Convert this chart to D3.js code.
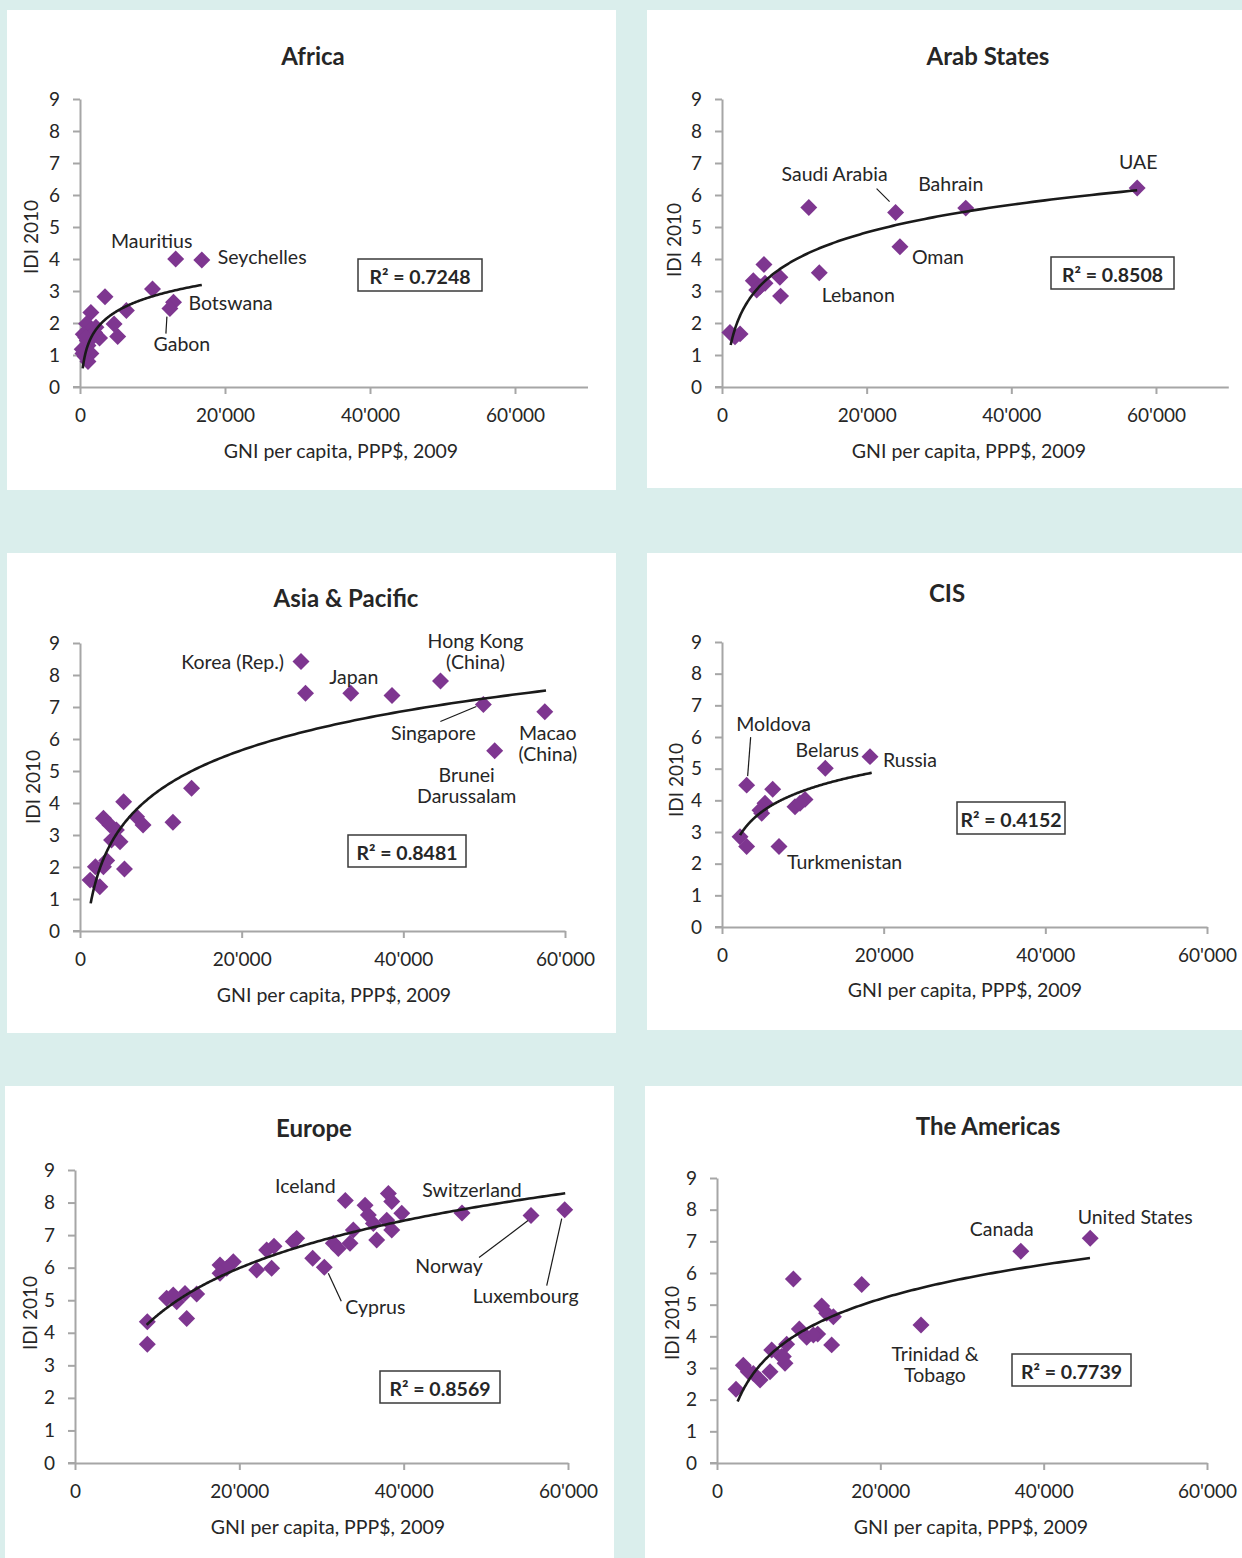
<!DOCTYPE html>
<html>
<head>
<meta charset="utf-8">
<script src="https://cdn.jsdelivr.net/npm/d3@7"></script>
<style>
  html, body { margin: 0; padding: 0; background: #daeeec; }
  svg { display: block; }
  text { font-family: Lato, "Open Sans", sans-serif; fill: #262626; }
</style>
</head>
<body>
<svg id="chart" width="1242" height="1558"></svg>
<script>
// ---------------- DATA ----------------
const regionNames = ["Africa", "Arab States", "Asia & Pacific", "CIS", "Europe", "The Americas"];
const xTickValues = [0, 20000, 40000, 60000];
const yTickValues = [0, 1, 2, 3, 4, 5, 6, 7, 8, 9];
const xAxisTitle = "GNI per capita, PPP$, 2009";
const yAxisTitle = "IDI 2010";

const africaGNI = [13200, 16800, 10000, 12900, 12400, 3450, 6400, 4700, 5200, 1500, 900, 2200, 1300, 450, 1800, 2700, 1000, 300, 1100, 600, 1500, 700, 1100, 400, 2000, 800];
const africaIDI = [4.00, 3.97, 3.06, 2.65, 2.45, 2.82, 2.39, 1.97, 1.58, 2.33, 1.98, 1.87, 1.75, 1.65, 1.57, 1.53, 1.45, 1.18, 1.30, 1.22, 1.05, 0.95, 0.80, 1.05, 1.70, 1.55];
const africaLabels = [[0, "Mauritius"], [1, "Seychelles"], [3, "Botswana"], [4, "Gabon"]];

const arabGNI = [24000, 12000, 24600, 13450, 5800, 4330, 8000, 8100, 5250, 4800, 5950, 1100, 2500, 1800, 33700, 57400];
const arabIDI = [5.45, 5.61, 4.38, 3.57, 3.83, 3.32, 3.43, 2.84, 3.13, 3.03, 3.24, 1.70, 1.66, 1.57, 5.59, 6.22];
const arabLabels = [[0, "Saudi Arabia"], [14, "Bahrain"], [15, "UAE"], [2, "Oman"], [3, "Lebanon"]];

const asiaGNI = [27340, 27900, 33500, 38600, 44600, 49900, 57500, 51300, 13800, 5400, 11500, 7000, 7800, 2900, 3700, 4500, 3900, 4950, 1900, 2900, 5500, 1250, 2450, 3300];
const asiaIDI = [8.42, 7.43, 7.43, 7.36, 7.81, 7.08, 6.85, 5.63, 4.46, 4.04, 3.40, 3.57, 3.31, 3.52, 3.31, 3.16, 2.84, 2.79, 2.01, 2.01, 1.94, 1.59, 1.38, 2.20];
const asiaLabels = [[0, "Korea (Rep.)"], [2, "Japan"], [4, "Hong Kong", "(China)"], [5, "Singapore"], [6, "Macao", "(China)"], [7, "Brunei", "Darussalam"]];

const cisGNI = [3050, 6270, 12780, 18310, 5320, 4700, 4910, 9030, 10270, 9650, 2230, 3050, 7050];
const cisIDI = [4.48, 4.35, 5.01, 5.38, 3.91, 3.69, 3.59, 3.80, 4.03, 3.91, 2.85, 2.54, 2.54];
const cisLabels = [[0, "Moldova"], [2, "Belarus"], [3, "Russia"], [12, "Turkmenistan"]];

const europeGNI = [8800, 8800, 13590, 11150, 11960, 13390, 14810, 12380, 17650, 19270, 18460, 17650, 22110, 23930, 23330, 24220, 26980, 26570, 28930, 30340, 32900, 31440, 32050, 33470, 33870, 35300, 35700, 36720, 36310, 38140, 38550, 39770, 38550, 37940, 47100, 55500, 59600];
const europeIDI = [4.34, 3.65, 4.44, 5.06, 5.16, 5.21, 5.19, 4.95, 6.08, 6.18, 5.98, 5.83, 5.93, 5.98, 6.54, 6.66, 6.90, 6.80, 6.29, 6.01, 8.06, 6.75, 6.59, 6.75, 7.16, 7.92, 7.62, 6.85, 7.36, 8.28, 8.03, 7.67, 7.16, 7.46, 7.68, 7.60, 7.78];
const europeLabels = [[20, "Iceland"], [34, "Switzerland"], [35, "Norway"], [36, "Luxembourg"], [19, "Cyprus"]];

const americasGNI = [9350, 17720, 24980, 12820, 13430, 14250, 10080, 10980, 12330, 14040, 8530, 6700, 8120, 8330, 6490, 5270, 4450, 3220, 3830, 2330, 37200, 45700, 11800, 7900];
const americasIDI = [5.81, 5.64, 4.36, 4.96, 4.73, 4.62, 4.23, 3.97, 4.07, 3.73, 3.75, 3.57, 3.36, 3.15, 2.88, 2.62, 2.83, 3.09, 2.88, 2.33, 6.69, 7.10, 4.04, 3.36];
const americasLabels = [[20, "Canada"], [21, "United States"], [2, "Trinidad &", "Tobago"]];

// logarithmic trend: IDI = a*ln(GNI) + b, drawn between GNI min and max
const trendA = [0.687, 1.25, 1.761, 0.93, 2.101, 1.566];
const trendB = [-3.494, -7.55, -11.79, -4.27, -14.82, -10.33];
const trendFrom = [376, 1200, 1320, 2230, 8720, 2530];
const trendTo = [16800, 57400, 57650, 18520, 59660, 45670];
const rSquared = ["0.7248", "0.8508", "0.8481", "0.4152", "0.8569", "0.7739"];
const xMax = [70000, 70000, 60000, 60000, 60000, 60000];

// ---------------- LAYOUT ----------------
const layout = [
  { panel: [7, 10, 609, 480], xr: [80, 587.5], yr: [387, 99], title: [313, 55], xt: [341, 450], yt: [30, 237], box: [358, 259, 124, 32],
    lab: [[-24, -19, "middle"], [16, -3, "start"], [15, 0, "start"], [12, 35, "middle", [-4, 25, -3, 8]]] },
  { panel: [647, 10, 595, 478], xr: [722, 1228.3], yr: [387, 99], title: [988, 55], xt: [969, 450], yt: [673, 240], box: [1051, 257, 123, 32],
    lab: [[-61, -39, "middle", [-19, -24, -6, -11]], [-15, -25, "middle"], [1, -26, "middle"], [12, 10, "start"], [39, 22, "middle"]] },
  { panel: [7, 553, 609, 480], xr: [80, 565], yr: [931, 643], title: [346, 597], xt: [334, 994], yt: [32, 787], box: [348, 835, 118, 32],
    lab: [[-17, 0, "end"], [3, -17, "middle"], [35, -41, "middle"], [-50, 28, "middle", [-43, 17, -7, 2]], [3, 21, "middle"], [-28, 24, "middle"]] },
  { panel: [647, 553, 595, 477], xr: [722, 1207], yr: [927, 642], title: [947, 592], xt: [965, 989], yt: [675, 780], box: [957, 802, 108, 32],
    lab: [[27, -62, "middle", [4, -48, 1, -9]], [2, -19, "middle"], [13, 3, "start"], [8, 15, "start"]] },
  { panel: [5, 1086, 609, 472], xr: [75, 568], yr: [1463, 1170], title: [314, 1127], xt: [328, 1526], yt: [29, 1313], box: [380, 1371, 120, 32],
    lab: [[-40, -15, "middle"], [10, -23, "middle"], [-82, 50, "middle", [-52, 42, -3, 5]], [-39, 86, "middle", [-18, 76, -3, 9]], [21, 39, "start", [17, 34, 4, 6]]] },
  { panel: [645, 1086, 597, 472], xr: [717, 1207], yr: [1463, 1178], title: [988, 1125], xt: [971, 1526], yt: [671, 1323], box: [1012, 1354, 119, 32],
    lab: [[-19, -23, "middle"], [45, -22, "middle"], [14, 29, "middle"]] }
];

const gniSets = [africaGNI, arabGNI, asiaGNI, cisGNI, europeGNI, americasGNI];
const idiSets = [africaIDI, arabIDI, asiaIDI, cisIDI, europeIDI, americasIDI];
const labelSets = [africaLabels, arabLabels, asiaLabels, cisLabels, europeLabels, americasLabels];

const svg = d3.select("#chart");
const purple = "#7e3690";
const axisGrey = "#a6a6a6";
const diamond = d3.symbol(d3.symbolSquare, 144);
const fmt = d => d === 0 ? "0" : d3.format(",")(d).replace(/,/g, "'");
const FS = "19.5px";

layout.forEach((L, k) => {
  const g = svg.append("g");
  g.append("rect").attr("x", L.panel[0]).attr("y", L.panel[1])
    .attr("width", L.panel[2]).attr("height", L.panel[3]).attr("fill", "#ffffff");

  const x = d3.scaleLinear().domain([0, xMax[k]]).range(L.xr);
  const y = d3.scaleLinear().domain([0, 9]).range(L.yr);

  // axes
  const xa = g.append("g").attr("transform", `translate(0,${L.yr[0]})`)
    .call(d3.axisBottom(x).tickValues(xTickValues).tickFormat(fmt).tickSize(7).tickPadding(15).tickSizeOuter(0));
  const ya = g.append("g").attr("transform", `translate(${L.xr[0]},0)`)
    .call(d3.axisLeft(y).tickValues(yTickValues).tickSize(7).tickPadding(13).tickSizeOuter(0));
  [xa, ya].forEach(a => {
    a.select(".domain").attr("stroke", axisGrey).attr("stroke-width", 2);
    a.selectAll(".tick line").attr("stroke", axisGrey).attr("stroke-width", 2);
    a.selectAll(".tick text").style("font-size", "19px").attr("fill", "#262626").style("font-family", "Lato, 'Open Sans', sans-serif");
  });
  // extend x-axis to the left of the y-axis like the reference
  g.append("line").attr("x1", L.xr[0] - 7).attr("x2", L.xr[0]).attr("y1", L.yr[0]).attr("y2", L.yr[0])
    .attr("stroke", axisGrey).attr("stroke-width", 2);

  // titles
  g.append("text").attr("x", L.title[0]).attr("y", L.title[1]).attr("text-anchor", "middle")
    .attr("dominant-baseline", "central").style("font-size", "24px").style("font-weight", "bold").text(regionNames[k]);
  g.append("text").attr("x", L.xt[0]).attr("y", L.xt[1]).attr("text-anchor", "middle")
    .attr("dominant-baseline", "central").style("font-size", FS).text(xAxisTitle);
  g.append("text").attr("transform", `translate(${L.yt[0]},${L.yt[1]}) rotate(-90)`).attr("text-anchor", "middle")
    .attr("dominant-baseline", "central").style("font-size", "19px").text(yAxisTitle);

  // points
  const pts = gniSets[k].map((v, i) => ({ gx: v, iy: idiSets[k][i] }));
  g.selectAll("path.pt").data(pts).join("path").attr("class", "pt")
    .attr("d", diamond)
    .attr("transform", d => `translate(${x(d.gx)},${y(d.iy)}) rotate(45)`)
    .attr("fill", purple);

  // trend line
  const lf = Math.log(trendFrom[k]), lt = Math.log(trendTo[k]);
  const tr = d3.range(0, 201).map(j => {
    const gx = Math.exp(lf + (lt - lf) * j / 200);
    return [gx, trendA[k] * Math.log(gx) + trendB[k]];
  });
  g.append("path").datum(tr)
    .attr("d", d3.line().x(d => x(d[0])).y(d => y(d[1])))
    .attr("fill", "none").attr("stroke", "#1a1a1a").attr("stroke-width", 2.6);

  // labels
  labelSets[k].forEach((lb, j) => {
    const o = L.lab[j];
    const px = x(gniSets[k][lb[0]]), py = y(idiSets[k][lb[0]]);
    const lines = lb.slice(1);
    lines.forEach((t, li) => {
      g.append("text").attr("x", px + o[0]).attr("y", py + o[1] + li * 21)
        .attr("text-anchor", o[2]).attr("dominant-baseline", "central")
        .style("font-size", FS).text(t);
    });
    if (o[3]) {
      g.append("line").attr("x1", px + o[3][0]).attr("y1", py + o[3][1])
        .attr("x2", px + o[3][2]).attr("y2", py + o[3][3])
        .attr("stroke", "#1a1a1a").attr("stroke-width", 1.2);
    }
  });

  // R² box
  g.append("rect").attr("x", L.box[0]).attr("y", L.box[1]).attr("width", L.box[2]).attr("height", L.box[3])
    .attr("fill", "#ffffff").attr("stroke", "#3a3a3a").attr("stroke-width", 1.5);
  g.append("text").attr("x", L.box[0] + L.box[2] / 2).attr("y", L.box[1] + L.box[3] / 2 + 1)
    .attr("text-anchor", "middle").attr("dominant-baseline", "central")
    .style("font-size", FS).style("font-weight", "bold").text("R² = " + rSquared[k]);
});
</script>
</body>
</html>
